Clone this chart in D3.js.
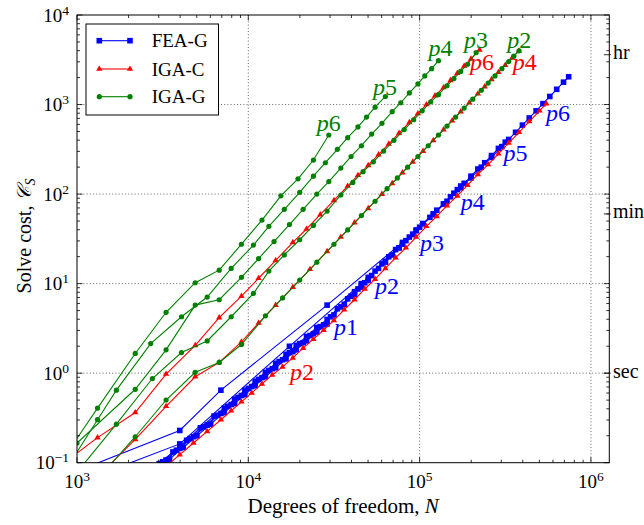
<!DOCTYPE html>
<html><head><meta charset="utf-8">
<script src="https://cdn.jsdelivr.net/npm/d3@7"></script>
<style>
body{margin:0;background:#fff;}
svg{display:block;}
text{font-family:"Liberation Serif","DejaVu Serif","Times New Roman",serif;fill:#000;}
</style>
</head><body>
<svg id="chart" width="644" height="525"></svg>
<script>
// ---------- data (N = degrees of freedom, C = solve cost) ----------
// FEA-G (blue squares)
const feaG_p1_N = [2884,3467,4169,5012,6026,7244,8318,9550,10960,12590,14450,16600,19050,21880,25120,28840];
const feaG_p1_C = [0.08128,0.1096,0.1479,0.1995,0.2692,0.3631,0.4571,0.5754,0.7244,0.912,1.148,1.445,1.820,2.291,2.884,3.548];
const feaG_p2_N = [2754,3311,3981,4786,5754,6918,7943,9120,10470,12020,13800,15850,18200,20890,23990,27540,31620,36310,41690,45710,50120];
const feaG_p2_C = [0.07943,0.1072,0.1445,0.1950,0.2630,0.3548,0.4467,0.5623,0.7079,0.8913,1.122,1.413,1.738,2.188,2.754,3.467,4.467,5.888,7.586,9.120,10.96];
const feaG_p3_N = [2630,3162,3802,4571,5495,6607,7586,8710,10000,11480,13180,15140,17380,19950,22910,26300,30200,34670,39810,43650,47860,52480,57540,63100,69180,75860,83180,91200,95500];
const feaG_p3_C = [0.07586,0.1023,0.1380,0.1862,0.2512,0.3388,0.4266,0.5370,0.6761,0.8511,1.072,1.349,1.698,2.138,2.630,3.311,4.266,5.495,7.244,8.710,10.23,12.30,14.79,17.78,20.89,25.12,30.20,35.48,38.90];
const feaG_p4_N = [2512,3020,3631,4365,5248,6310,7244,8318,9550,10960,12590,14450,16600,19050,21880,25120,28840,33110,38020,41690,45710,50120,54950,60260,66070,72440,79430,87100,95500,104700,114800,125900,138000,151400,166000,173800];
const feaG_p4_C = [0.07244,0.09772,0.1318,0.1778,0.2455,0.3311,0.4074,0.5129,0.6457,0.8128,1.023,1.288,1.622,2.042,2.570,3.236,3.981,5.248,6.761,8.128,9.772,11.75,13.80,16.60,19.95,23.99,27.54,33.11,39.81,46.77,54.95,66.07,77.62,93.33,112.2,123.0];
const feaG_p5_N = [1202,3981,17380,45710,63100,75860,91200,104700,120200,138000,158500,182000,199500,218800,239900,263000,288400,316200];
const feaG_p5_C = [0.06761,0.1622,1.995,10.00,17.38,25.12,35.48,46.77,60.26,77.62,102.3,131.8,158.5,190.5,223.9,269.2,323.6,380.2];
const feaG_p6_N = [794,3981,6918,28840,79430,100000,120200,144500,173800,199500,229100,263000,302000,331100,363100,398100,436500,478600,524800,575400,631000,691800,741300];
const feaG_p6_C = [0.06761,0.2291,0.6457,5.754,28.84,42.66,58.88,83.18,117.5,151.4,199.5,257.0,338.8,407.4,489.8,588.8,707.9,851.1,1023,1230,1479,1778,2042];
// IGA-C (red triangles)
const igaC_p2_N = [2754,3311,3981,4786,5754,6918,7943,9120,10470,12020,13800,15850,18200,20890,23990,27540,31620,36310,41690,47860,54950,63100,72440,83180,95500,109600,125900,144500,166000,190500,218800,251200,288400,331100,380200,436500,501200,549500];
const igaC_p2_C = [0.06761,0.0912,0.1230,0.1660,0.2239,0.3020,0.3802,0.4786,0.6026,0.7586,0.955,1.175,1.479,1.905,2.399,3.020,3.890,5.129,6.607,8.710,11.22,14.79,19.50,25.12,33.11,43.65,56.23,74.13,95.50,125.9,166.0,213.8,281.8,371.5,489.8,645.7,851.1,1023];
const igaC_p4_N = [1413,2188,3311,4898,6761,9120,11480,14450,18200,22910,28840,34670,41690,50120,60260,69180,79430,91200,104700,120200,138000,154900,173800,195000,218800,239900,263000,288400,316200,346700,380200];
const igaC_p4_C = [0.07943,0.1820,0.4266,0.9120,1.318,2.239,3.631,5.754,9.120,14.45,22.91,33.11,47.86,69.18,100.0,131.8,173.8,229.1,302.0,398.1,524.8,660.7,831.8,1047,1318,1585,1905,2291,2754,3311,3981];
const igaC_p6_N = [912,1318,2188,3311,4898,6761,9120,11480,14450,18200,21880,26300,31620,38020,43650,50120,57540,66070,75860,87100,97720,109600,123000,138000,151400,166000,182000,199500,223900];
const igaC_p6_C = [0.1122,0.1905,0.3631,0.9772,2.042,4.169,7.244,11.48,18.20,28.84,40.74,58.88,85.11,123.0,162.2,208.9,275.4,363.1,478.6,631.0,794.3,1000,1259,1549,1862,2239,2692,3236,4074];
// IGA-G (green circles)
const igaG_p2_N = [1445,2188,3311,4898,6761,9120,12590,15850,19950,25120,31620,38020,45710,54950,64570,74130,85110,97720,112200,128800,144500,162200,182000,204200,229100,251200,275400,302000,331100,354800,380200];
const igaG_p2_C = [0.07943,0.1950,0.5012,1.023,1.318,2.089,4.365,6.918,10.96,17.38,27.54,39.81,57.54,83.18,114.8,151.4,199.5,263.0,346.7,457.1,575.4,724.4,912.0,1148,1445,1738,2089,2512,3020,3467,3981];
const igaG_p3_N = [1047,1698,2754,4074,5754,7943,10720,13180,16220,19950,23990,28840,34670,40740,46770,53700,61660,70790,81280,92260,103500,116100,128800,144500,158500,173800,190500,213800];
const igaG_p3_C = [0.0871,0.2692,0.8710,1.698,2.291,4.266,7.762,13.80,20.89,30.90,44.67,64.57,97.72,134.9,177.8,229.1,302.0,398.1,524.8,676.1,851.1,1072,1288,1622,1950,2344,2818,3802];
const igaG_p4_N = [1000,2188,3311,4898,6761,9120,11480,14130,17380,20890,25120,29510,34670,39810,45710,52480,60260,69180,77620,87100,97720,107200,117500,128800];
const igaG_p4_C = [0.1660,0.6607,1.820,5.754,6.607,11.75,19.05,29.51,45.71,67.61,100.0,138.0,195.0,263.0,346.7,467.7,616.6,831.8,1047,1349,1698,2089,2512,3090];
const igaG_p5_N = [891,1318,1698,2692,4074,5754,7943,10720,13180,16220,19950,23990,28180,33110,38020,43650,48980,54950,63100];
const igaG_p5_C = [0.09333,0.3020,0.6457,2.138,4.266,7.079,14.79,26.92,43.65,67.61,104.7,158.5,223.9,316.2,426.6,562.3,724.4,933.3,1230];
const igaG_p6_N = [891,1318,2188,3311,4898,6761,9120,12020,15490,19500,23990,29510];
const igaG_p6_C = [0.1349,0.4074,1.660,4.786,10.23,14.13,27.54,51.29,95.50,147.9,239.9,457.1];

// curve labels: [method, degree digit, N, C] (left / baseline anchor)
const curveLabels = [
  ['IGA-G','6',25060,509.6],['IGA-G','5',53460,1288],['IGA-G','4',112500,3467],
  ['IGA-G','3',181600,4315],['IGA-G','2',325100,4315],
  ['IGA-C','6',196800,2425],['IGA-C','4',349100,2448],['IGA-C','2',17500,0.8416],
  ['FEA-G','1',31620,2.645],['FEA-G','2',54950,7.691],['FEA-G','3',100500,22.96],
  ['FEA-G','4',173800,66.8],['FEA-G','5',308300,232.3],['FEA-G','6',547000,650.6]
];

// ticks
const xTickExp = [3,4,5,6];
const yTickExp = [-1,0,1,2,3,4];
const timeTickVals = [1,60,3600];
const timeTickLabels = ['sec','min','hr'];
const legendNames = ['FEA-G','IGA-C','IGA-G'];

// ---------- build ----------
const styles = {
  'FEA-G':{color:'#0000ff', marker:'square'},
  'IGA-C':{color:'#ff0000', marker:'triangle'},
  'IGA-G':{color:'#008000', marker:'circle'}
};
const series = [
  ['FEA-G',feaG_p1_N,feaG_p1_C],['FEA-G',feaG_p2_N,feaG_p2_C],['FEA-G',feaG_p3_N,feaG_p3_C],
  ['FEA-G',feaG_p4_N,feaG_p4_C],['FEA-G',feaG_p5_N,feaG_p5_C],['FEA-G',feaG_p6_N,feaG_p6_C],
  ['IGA-C',igaC_p2_N,igaC_p2_C],['IGA-C',igaC_p4_N,igaC_p4_C],['IGA-C',igaC_p6_N,igaC_p6_C],
  ['IGA-G',igaG_p2_N,igaG_p2_C],['IGA-G',igaG_p3_N,igaG_p3_C],['IGA-G',igaG_p4_N,igaG_p4_C],
  ['IGA-G',igaG_p5_N,igaG_p5_C],['IGA-G',igaG_p6_N,igaG_p6_C]
].map(([m,N,C]) => ({method:m, pts:N.map((n,i)=>[n,C[i]])}));

const L=77, T=15, R=609.3, B=462.7;
const x = d3.scaleLog().domain([1e3,1.28e6]).range([L,R]);
const y = d3.scaleLog().domain([0.1,1e4]).range([B,T]);

const svg = d3.select('#chart');
svg.append('defs').append('clipPath').attr('id','clip')
  .append('rect').attr('x',L).attr('y',T).attr('width',R-L).attr('height',B-T);

// grid
const grid = svg.append('g').attr('stroke','#000').attr('stroke-width',0.6).attr('stroke-dasharray','1,2.2');
xTickExp.forEach(e=>{ const v=Math.pow(10,e); const px=x(v); if(px>L+1&&px<R-1) grid.append('line').attr('x1',px).attr('x2',px).attr('y1',T).attr('y2',B); });
yTickExp.forEach(e=>{ const v=Math.pow(10,e); const py=y(v); if(py>T+1&&py<B-1) grid.append('line').attr('x1',L).attr('x2',R).attr('y1',py).attr('y2',py); });

// data
const plot = svg.append('g').attr('clip-path','url(#clip)');
const line = d3.line().x(d=>x(d[0])).y(d=>y(d[1]));
function drawMarkers(g, pts, st){
  if(st.marker==='square'){
    g.selectAll(null).data(pts).enter().append('rect')
      .attr('x',d=>x(d[0])-2.8).attr('y',d=>y(d[1])-2.8).attr('width',5.6).attr('height',5.6).attr('fill',st.color);
  } else if(st.marker==='triangle'){
    const sym = d3.symbol().type(d3.symbolTriangle).size(17);
    g.selectAll(null).data(pts).enter().append('path')
      .attr('d',sym).attr('transform',d=>`translate(${x(d[0])},${y(d[1])})`).attr('fill',st.color);
  } else {
    g.selectAll(null).data(pts).enter().append('circle')
      .attr('cx',d=>x(d[0])).attr('cy',d=>y(d[1])).attr('r',2.6).attr('fill',st.color);
  }
}
series.forEach(s=>{
  const st=styles[s.method];
  const g=plot.append('g');
  g.append('path').attr('d',line(s.pts)).attr('fill','none').attr('stroke',st.color).attr('stroke-width',1.1);
  drawMarkers(g, s.pts, st);
});

// curve labels
curveLabels.forEach(([m,d,n,c])=>{
  const t=svg.append('text').attr('x',x(n)).attr('y',y(c)).attr('font-size',24).style('fill',styles[m].color);
  t.append('tspan').attr('font-style','italic').text('p');
  t.append('tspan').text(d);
});

// frame
svg.append('rect').attr('x',L).attr('y',T).attr('width',R-L).attr('height',B-T)
  .attr('fill','none').attr('stroke','#000').attr('stroke-width',1);

// ticks
const tk = svg.append('g').attr('stroke','#000').attr('stroke-width',0.8);
function xTicks(v,len){ const px=x(v); if(px<L-0.1||px>R+0.1) return;
  tk.append('line').attr('x1',px).attr('x2',px).attr('y1',B).attr('y2',B-len);
  tk.append('line').attr('x1',px).attr('x2',px).attr('y1',T).attr('y2',T+len); }
function yTicks(v,len){ const py=y(v); if(py<T-0.1||py>B+0.1) return;
  tk.append('line').attr('y1',py).attr('y2',py).attr('x1',L).attr('x2',L+len);
  tk.append('line').attr('y1',py).attr('y2',py).attr('x1',R).attr('x2',R-len); }
for(let e=2;e<=6;e++){ for(let k=1;k<=9;k++){ xTicks(k*Math.pow(10,e), k===1?5.5:3); } }
for(let e=-1;e<=4;e++){ for(let k=1;k<=9;k++){ yTicks(k*Math.pow(10,e), k===1?5.5:3); } }
timeTickVals.forEach(v=>{ const py=y(v); tk.append('line').attr('y1',py).attr('y2',py).attr('x1',R+1.5).attr('x2',R-5.5); });

// tick labels
function pow10(t,e){ t.append('tspan').text('10'); t.append('tspan').attr('dy',-7).attr('font-size',13.5).text(e<0?'\u2212'+(-e):String(e)); }
xTickExp.forEach(e=>{ const t=svg.append('text').attr('x',x(Math.pow(10,e))).attr('y',488).attr('font-size',19).attr('text-anchor','middle'); pow10(t,e); });
yTickExp.forEach(e=>{ const t=svg.append('text').attr('x',69).attr('y',y(Math.pow(10,e))+6.5).attr('font-size',19).attr('text-anchor','end'); pow10(t,e); });
timeTickVals.forEach((v,i)=>{ svg.append('text').attr('x',613).attr('y',y(v)+4.5).attr('font-size',20).text(timeTickLabels[i]); });

// axis titles
const xt = svg.append('text').attr('x',(L+R)/2).attr('y',513).attr('font-size',21).attr('text-anchor','middle');
xt.append('tspan').text('Degrees of freedom, ');
xt.append('tspan').attr('font-style','italic').text('N');
const yt = svg.append('text').attr('transform','translate(31,236) rotate(-90)').attr('font-size',20).attr('text-anchor','middle');
yt.append('tspan').text('Solve cost, ');
yt.append('tspan').attr('font-style','italic').text('\u{1D49E}');
yt.append('tspan').attr('font-style','italic').attr('font-size',14).attr('dy',4).text('S');

// legend
const lg = svg.append('g');
lg.append('rect').attr('x',86).attr('y',24).attr('width',132.5).attr('height',91).attr('fill','#fff').attr('stroke','#000').attr('stroke-width',1);
const legY=[40.7,69,96.7];
legendNames.forEach((nm,i)=>{
  const st=styles[nm]; const yy=legY[i];
  lg.append('line').attr('x1',99.3).attr('x2',130).attr('y1',yy).attr('y2',yy).attr('stroke',st.color).attr('stroke-width',1.1);
  [99.3,130].forEach(xx=>{
    if(st.marker==='square') lg.append('rect').attr('x',xx-2.8).attr('y',yy-2.8).attr('width',5.6).attr('height',5.6).attr('fill',st.color);
    else if(st.marker==='triangle') lg.append('path').attr('d',d3.symbol().type(d3.symbolTriangle).size(17)).attr('transform',`translate(${xx},${yy})`).attr('fill',st.color);
    else lg.append('circle').attr('cx',xx).attr('cy',yy).attr('r',2.6).attr('fill',st.color);
  });
  lg.append('text').attr('x',151.7).attr('y',yy+6.5).attr('font-size',19).text(nm);
});
</script>
</body></html>
